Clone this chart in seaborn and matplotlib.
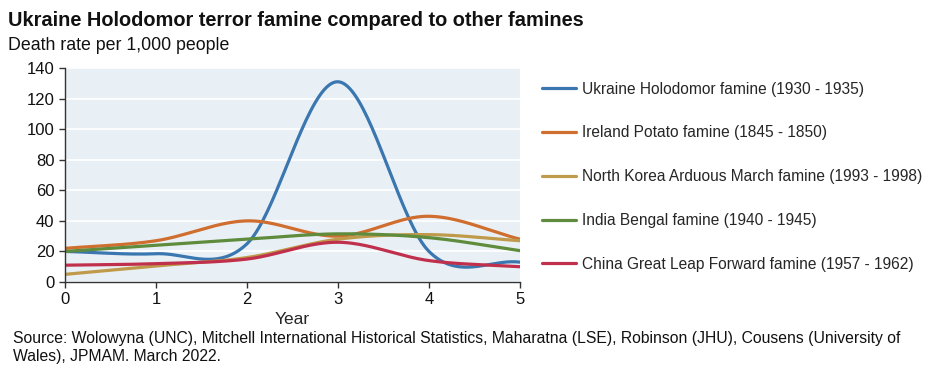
import numpy as np
import pandas as pd
import seaborn as sns
import matplotlib.pyplot as plt

years = [0, 1, 2, 3, 4, 5]
ukraine = [20, 18.5, 25, 131, 20, 13]
ireland = [22, 27, 40, 30, 43, 28]
north_korea = [5, 10.5, 16, 28, 31, 27]
india = [20, 24, 28, 31.5, 29, 20.5]
china = [11, 12, 15, 26, 14, 10]

labels = ["Ukraine Holodomor famine (1930 - 1935)",
          "Ireland Potato famine (1845 - 1850)",
          "North Korea Arduous March famine (1993 - 1998)",
          "India Bengal famine (1940 - 1945)",
          "China Great Leap Forward famine (1957 - 1962)"]
colors = ["#3a76b0", "#cf6e2e", "#bf9a4a", "#5e8c3c", "#c0304c"]


def smooth(x, y, n=40):
    # catmull-rom like excel "smoothed line"
    x = np.asarray(x, float)
    y = np.asarray(y, float)
    px = np.concatenate([[2 * x[0] - x[1]], x, [2 * x[-1] - x[-2]]])
    py = np.concatenate([[2 * y[0] - y[1]], y, [2 * y[-1] - y[-2]]])
    xs, ys = [], []
    for i in range(1, len(px) - 2):
        t = np.linspace(0, 1, n, endpoint=(i == len(px) - 3))
        for p, out in ((px, xs), (py, ys)):
            p0, p1, p2, p3 = p[i - 1], p[i], p[i + 1], p[i + 2]
            out.extend(0.5 * (2 * p1 + (-p0 + p2) * t + (2 * p0 - 5 * p1 + 4 * p2 - p3) * t ** 2
                              + (-p0 + 3 * p1 - 3 * p2 + p3) * t ** 3))
    return xs, ys


frames = []
for lab, vals in zip(labels, [ukraine, ireland, north_korea, india, china]):
    sx, sy = smooth(years, vals)
    frames.append(pd.DataFrame({"Year": sx, "rate": sy, "famine": lab}))
df = pd.concat(frames)

sns.set_style("white")
plt.rcParams['font.family'] = ['Liberation Sans', 'DejaVu Sans']

fig = plt.figure(figsize=(9.5, 3.74), dpi=100)
ax = fig.add_axes([65 / 950, 1 - 282 / 374, 455 / 950, 214 / 374])
ax.set_facecolor("#e9f0f5")
sns.lineplot(data=df, x="Year", y="rate", hue="famine", palette=colors,
             sort=False, estimator=None, linewidth=2.3, ax=ax, legend=True)

ax.set_xlim(0, 5)
ax.set_ylim(0, 140)
ax.set_yticks(range(0, 141, 20))
ax.set_xticks(range(0, 6))
ax.grid(axis="y", color="white", linewidth=1.2)
ax.set_axisbelow(True)
for s in ["top", "right"]:
    ax.spines[s].set_visible(False)
for s in ["left", "bottom"]:
    ax.spines[s].set_color("#333333")
    ax.spines[s].set_linewidth(1)
ax.tick_params(axis="both", length=4, width=1, color="#333333", labelsize=12,
               labelcolor="#111111", direction="out", bottom=True, left=True)
ax.set_ylabel("")
ax.set_xlabel("Year", fontsize=12.5, labelpad=3)

leg = ax.legend(loc="upper left", bbox_to_anchor=(1.035, 0.965), frameon=False,
                fontsize=11.2, handlelength=2.2, handletextpad=0.35,
                labelspacing=1.85, borderaxespad=0)
for line in leg.get_lines():
    line.set_linewidth(2.3)

fig.text(8 / 950, 1 - 20 / 374, "Ukraine Holodomor terror famine compared to other famines",
         fontsize=14.4, fontweight="bold", va="center", color="#111111")
fig.text(8 / 950, 1 - 45 / 374, "Death rate per 1,000 people",
         fontsize=12.8, va="center", color="#111111")
fig.text(13 / 950, 1 - 338 / 374,
         "Source: Wolowyna (UNC), Mitchell International Historical Statistics, Maharatna (LSE), Robinson (JHU), Cousens (University of",
         fontsize=11.3, va="center", color="#111111")
fig.text(13 / 950, 1 - 356 / 374, "Wales), JPMAM. March 2022.",
         fontsize=11.3, va="center", color="#111111")

fig.savefig("out.png", dpi=100)
